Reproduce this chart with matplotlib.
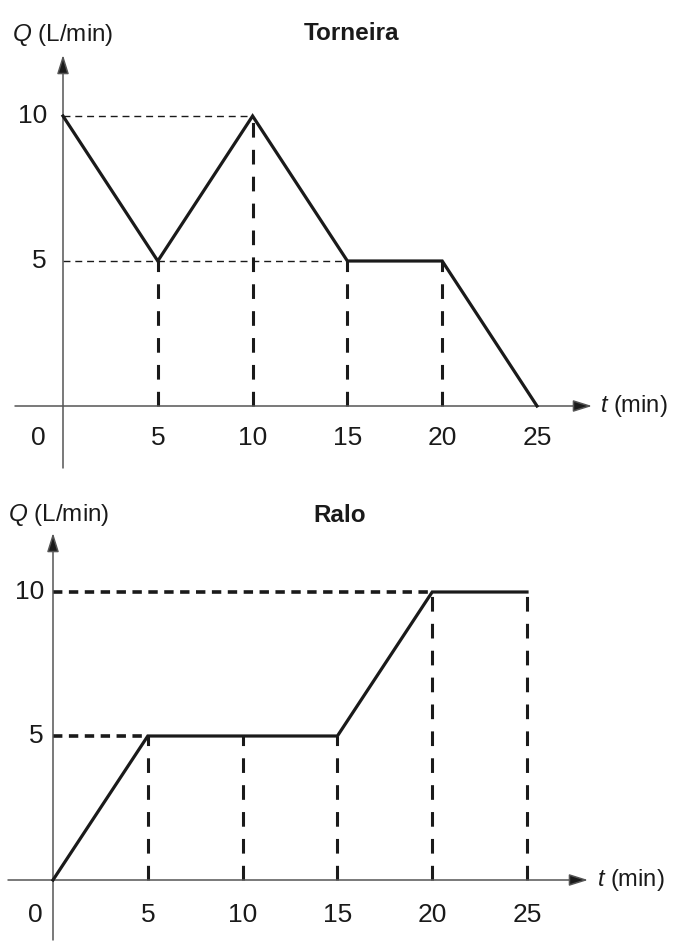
import matplotlib
matplotlib.use("Agg")
import matplotlib.pyplot as plt

plt.rcParams['font.family'] = ['Liberation Sans Narrow', 'Liberation Sans', 'DejaVu Sans']
plt.rcParams['mathtext.fontset'] = 'custom'
plt.rcParams['mathtext.it'] = 'Liberation Sans:italic'
plt.rcParams['mathtext.rm'] = 'Liberation Sans'

# Data
t_points = [0, 5, 10, 15, 20, 25]
q_torneira = [10, 5, 10, 5, 5, 0]
q_ralo = [0, 5, 5, 5, 10, 10]
x_ticks = [0, 5, 10, 15, 20, 25]
y_ticks = [5, 10]
# horizontal guide lines: (level, end time)
guides_torneira = [(10, 10), (5, 15)]
guides_ralo = [(10, 20), (5, 5)]

W, H = 673, 946
fig = plt.figure(figsize=(W / 100, H / 100), dpi=100)

ink = "#1a1a1a"
axis_col = "#555555"
arrow = "-|>,head_length=1.15,head_width=0.36"


def make_panel(rect, xlim, ylim, q, guides, title, title_xy, qlabel_xy, tlabel_x,
               ax_x, ax_y, xtick_y, ytick_x, zero_x, hstyle):
    ax = fig.add_axes(rect)
    ax.set_xlim(*xlim)
    ax.set_ylim(*ylim)
    ax.axis("off")

    # axes with arrows
    ax.annotate("", xy=(ax_x[1], 0), xytext=(ax_x[0], 0),
                arrowprops=dict(arrowstyle=arrow, lw=1.1, shrinkA=0, shrinkB=0,
                                fc=ink, ec=axis_col))
    ax.annotate("", xy=(0, ax_y[1]), xytext=(0, ax_y[0]),
                arrowprops=dict(arrowstyle=arrow, lw=1.1, shrinkA=0, shrinkB=0,
                                fc=ink, ec=axis_col))

    # vertical guides
    for t, v in zip(t_points, q):
        if t > 0 and v > 0:
            ax.plot([t, t], [0, v], color=ink, lw=2.2, dashes=(4.8, 4), zorder=2)
    # horizontal guides
    for level, t_end in guides:
        ax.plot([0, t_end], [level, level], color=ink, lw=hstyle[0],
                dashes=hstyle[1], zorder=2)

    ax.plot(t_points, q, color=ink, lw=2.3, solid_joinstyle="miter", zorder=3)

    for t in x_ticks:
        ax.text(zero_x if t == 0 else t, xtick_y, str(t), ha="center", va="center",
                fontsize=19, color=ink)
    for v in y_ticks:
        ax.text(ytick_x, v, str(v), ha="right", va="center", fontsize=19, color=ink)

    ax.text(qlabel_xy[0], qlabel_xy[1], r"$Q$ (L/min)", ha="left", va="center",
            fontsize=17.5, color=ink)
    ax.text(title_xy[0], title_xy[1], title, ha="center", va="center",
            fontsize=17.5, fontweight="bold", color=ink)
    ax.text(tlabel_x, 0, r"$t$ (min)", ha="left", va="center", fontsize=17, color=ink)
    return ax


# top panel: t=0 at x=63 px, 18.96 px/min; Q=0 at y=406 px, 29 px/unit
sx, sy = 18.96, 29.0
make_panel([0, 1 - 473 / H, 1, 473 / H],
           (-63 / sx, (W - 63) / sx), (-(473 - 406) / sy, 406 / sy),
           q_torneira, guides_torneira, "Torneira",
           ((352 - 63) / sx, (406 - 33) / sy), ((12 - 63) / sx, (406 - 35) / sy),
           (600 - 63) / sx,
           ((15 - 63) / sx, (592 - 63) / sx), ((406 - 468) / sy, (406 - 55) / sy),
           (406 - 438) / sy, (47 - 63) / sx, (38 - 63) / sx,
           (1.0, (5, 3.5)))

# bottom panel: t=0 at x=53 px; Q=0 at y=880 px, 28.8 px/unit
sy2 = 28.8
make_panel([0, 0, 1, 473 / H],
           (-53 / sx, (W - 53) / sx), (-(946 - 880) / sy2, (880 - 473) / sy2),
           q_ralo, guides_ralo, "Ralo",
           ((340 - 53) / sx, (880 - 515) / sy2), ((8 - 53) / sx, (880 - 515) / sy2),
           (597 - 53) / sx,
           ((8 - 53) / sx, (588 - 53) / sx), ((880 - 940) / sy2, (880 - 533) / sy2),
           (880 - 915) / sy2, (44 - 53) / sx, (35 - 53) / sx,
           (2.6, (2.6, 1.8)))

fig.savefig("out.png", dpi=100, facecolor="white")
